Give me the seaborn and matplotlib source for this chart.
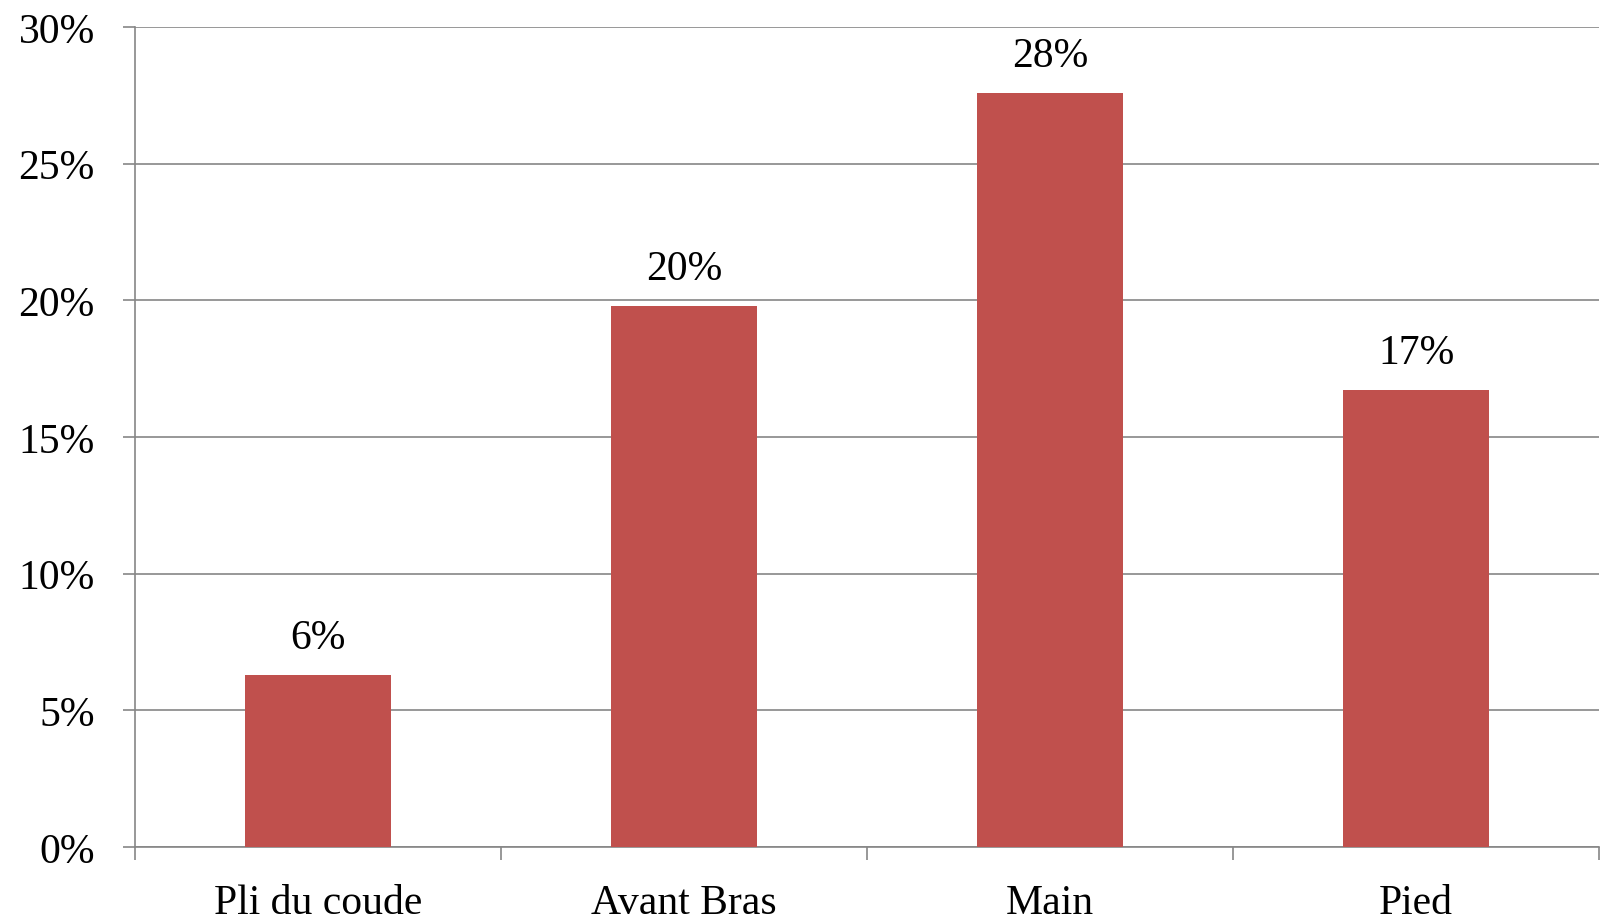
import matplotlib
matplotlib.use("Agg")
import matplotlib.pyplot as plt
import seaborn as sns
import pandas as pd
from matplotlib.ticker import FixedLocator, PercentFormatter

categories = ["Pli du coude", "Avant Bras", "Main", "Pied"]
values = [6.3, 19.8, 27.6, 16.7]
y_ticks = [0, 5, 10, 15, 20, 25, 30]

sns.set_theme(style="white")
plt.rcParams["font.family"] = ["Liberation Serif", "DejaVu Serif"]

df = pd.DataFrame({"site": categories, "pct": values})

fig = plt.figure(figsize=(16.08, 9.2), dpi=100)
ax = fig.add_axes([0.084, 0.0783, 0.9104, 0.8913])

sns.barplot(data=df, x="site", y="pct", color="#C0504D", width=0.4,
            saturation=1, linewidth=0, ax=ax, zorder=3)

grid_col = "#868686"
lw = 1.2
ax.set_ylim(0, 30)
ax.set_xlim(-0.5, len(categories) - 0.5)
ax.set_yticks(y_ticks)
ax.yaxis.set_major_formatter(PercentFormatter(decimals=0))
for y in y_ticks:
    ax.axhline(y, color=grid_col, lw=lw, zorder=1)

# category boundaries carry the tick marks, centres carry the labels
ax.xaxis.set_major_locator(FixedLocator([i - 0.5 for i in range(len(categories) + 1)]))
ax.xaxis.set_minor_locator(FixedLocator(list(range(len(categories)))))
ax.set_xticklabels([], minor=False)
ax.set_xticklabels(categories, minor=True)
ax.tick_params(axis="x", which="major", length=9, width=lw, color=grid_col, direction="out", bottom=True)
ax.tick_params(axis="x", which="minor", length=0, labelsize=30, pad=26, colors="black")
ax.tick_params(axis="y", length=9, width=lw, color=grid_col, direction="out", left=True,
               labelsize=30, pad=20, labelcolor="black")

for s in ["top", "right"]:
    ax.spines[s].set_visible(False)
for s in ["left", "bottom"]:
    ax.spines[s].set_color(grid_col)
    ax.spines[s].set_linewidth(lw)

ax.set_xlabel("")
ax.set_ylabel("")

for i, v in enumerate(values):
    ax.annotate(f"{v:.0f}%", (i, v), xytext=(0, 13), textcoords="offset points",
                ha="center", va="bottom", fontsize=30, color="black")

fig.savefig("out.png", dpi=100, facecolor="white")
